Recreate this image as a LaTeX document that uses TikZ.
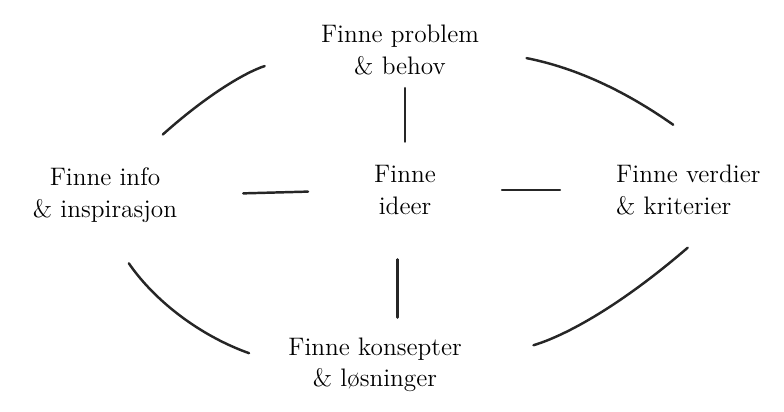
\documentclass[tikz,border=0pt]{standalone}
\usetikzlibrary{positioning,calc}
\begin{document}
\begin{tikzpicture}[every node/.style={font=\Large,align=center},
  stroke/.style={line width=1.4pt,line cap=round,black!85}]
\useasboundingbox (0,0) rectangle (15.68,8.24);
% the five steps
\node (problem) at (8.0,7.24) {Finne problem\\ \& behov};
\node (info) at (2.1,4.34) {Finne info\\ \& inspirasjon};
\node (ideer) at (8.1,4.44) {Finne\\ ideer};
\node[anchor=west,align=left] (verdier) at (12.2,4.44) {Finne verdier\\ \& kriterier};
\node (konsept) at (7.5,0.94) {Finne konsepter\\ \& løsninger};
\coordinate (foot) at ($(ideer.south)+(-0.15,0)$);
% spokes
\draw[stroke,shorten <=10pt,shorten >=4pt] (ideer.north) -- (ideer.north |- problem.south);
\draw[stroke,shorten <=1.2cm,shorten >=1.2cm] (info.east) -- (ideer.west);
\draw[stroke,shorten <=1.2cm,shorten >=1.0cm] (ideer.east) -- (verdier.west);
\draw[stroke,shorten <=22pt,shorten >=8pt] (foot) -- (foot |- konsept.north);
% ring
\draw[stroke,shorten <=6pt,shorten >=30pt] (info.north) ++(1,0.4) coordinate (tl) (tl) to[bend left=12] (problem.west);
\draw[stroke,shorten <=24pt,shorten >=14pt] (problem.east) to[bend left=12] ($(verdier.north)+(0.1,0.4)$);
\draw[stroke,shorten <=24pt,shorten >=20pt] (info.south) to[bend right=18] (konsept.west);
\draw[stroke,shorten <=39pt,shorten >=8pt] (konsept.east) to[bend right=12] ($(verdier.south)+(0.2,-0.35)$);
\end{tikzpicture}
\end{document}
